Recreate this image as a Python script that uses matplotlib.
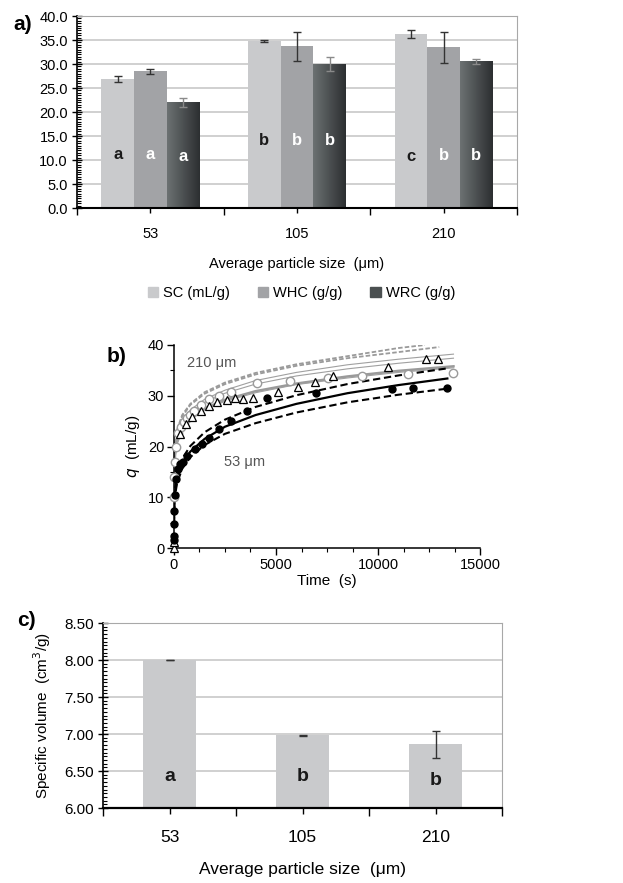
import numpy as np
import matplotlib
matplotlib.use("Agg")
import matplotlib.pyplot as plt
from matplotlib.ticker import MultipleLocator, FormatStrFormatter, FixedLocator
from matplotlib.patches import Patch
from matplotlib.colors import LinearSegmentedColormap

plt.rcParams['font.family'] = ['Liberation Sans', 'DejaVu Sans']

# ---------------- data ----------------
sizes = ["53", "105", "210"]
series_a = ["SC (mL/g)", "WHC (g/g)", "WRC (g/g)"]
sc_vals = [26.8, 34.7, 36.3]
sc_err = [0.6, 0.2, 0.8]
whc_vals = [28.5, 33.7, 33.5]
whc_err = [0.5, 3.0, 3.2]
wrc_vals = [22.0, 30.0, 30.6]
wrc_err = [1.0, 1.4, 0.5]
sc_letters = ["a", "b", "c"]
whc_letters = ["a", "b", "b"]
wrc_letters = ["a", "b", "b"]
sc_letter_y = [11.2, 14.0, 10.7]
whc_letter_y = [11.2, 14.0, 10.9]
wrc_letter_y = [10.7, 14.0, 10.9]

# panel b: kinetics
t_53 = [0, 0, 0, 0, 30, 100, 180, 277, 440, 650, 1010, 1385, 1710, 2230, 2770, 3580, 4545, 6960, 10700, 11700, 13400]
q_53 = [1.5, 2.3, 4.8, 7.3, 10.5, 13.5, 15.5, 16.6, 17.0, 18.2, 19.5, 20.5, 21.6, 23.4, 25.1, 27.0, 29.5, 30.5, 31.4, 31.5, 31.5]
t_105 = [0, 0, 300, 600, 900, 1300, 1700, 2100, 2600, 3000, 3400, 3860, 5110, 6060, 6900, 7810, 10500, 12340, 12960]
q_105 = [0.0, 1.2, 22.5, 24.5, 25.8, 27.0, 28.0, 28.7, 29.2, 29.5, 29.4, 29.6, 30.8, 31.7, 32.8, 33.8, 35.7, 37.2, 37.2]
t_210 = [5, 20, 50, 100, 200, 350, 500, 650, 800, 1000, 1300, 1700, 2200, 2800, 4050, 5690, 7570, 9200, 11490, 13690]
q_210 = [10.0, 14.0, 17.0, 20.0, 22.6, 23.8, 24.8, 25.6, 26.3, 27.0, 28.2, 29.3, 30.0, 30.8, 32.5, 32.9, 33.4, 33.8, 34.3, 34.4]

t_fit_k = [1, 10, 50, 150, 400, 800, 1500, 2500, 4000, 6000, 8500, 11000, 13400]
fit53_mid = [5.0, 7.9, 10.9, 13.6, 16.6, 19.0, 21.5, 23.9, 26.2, 28.4, 30.5, 32.1, 33.4]
fit53_up = [5.3, 8.4, 11.6, 14.4, 17.6, 20.1, 22.8, 25.3, 27.8, 30.1, 32.3, 34.0, 35.4]
fit53_lo = [4.7, 7.4, 10.3, 12.8, 15.6, 17.9, 20.3, 22.5, 24.6, 26.7, 28.7, 30.2, 31.4]

t_fit_g1 = [1, 10, 50, 150, 400, 800, 1500, 2500, 4000, 6000, 8500, 11000, 12300]
fit_g1 = [12.8, 16.8, 20.4, 23.3, 26.2, 28.4, 30.7, 32.6, 34.5, 36.2, 37.8, 39.4, 40.0]
t_fit_g2 = [1, 10, 50, 150, 400, 800, 1500, 2500, 4000, 6000, 8500, 11000, 13000]
fit_g2 = [12.6, 16.6, 20.2, 23.0, 25.9, 28.2, 30.4, 32.3, 34.2, 35.9, 37.4, 38.6, 39.6]
t_fit_g = [1, 10, 50, 150, 400, 800, 1500, 2500, 4000, 6000, 8500, 11000, 13700]
fit_g3 = [12.2, 16.0, 19.5, 22.2, 25.0, 27.2, 29.3, 31.1, 33.0, 34.6, 36.1, 37.2, 38.2]
fit_g4 = [11.9, 15.7, 19.1, 21.8, 24.5, 26.6, 28.7, 30.5, 32.3, 33.9, 35.3, 36.4, 37.4]
fit_g5 = [11.4, 15.0, 18.3, 20.8, 23.4, 25.5, 27.5, 29.2, 30.9, 32.4, 33.8, 34.9, 35.8]
fit_g6 = [11.3, 14.9, 18.1, 20.7, 23.2, 25.2, 27.2, 28.9, 30.6, 32.2, 33.5, 34.6, 35.5]

# panel c
sv_vals = [8.00, 6.98, 6.86]
sv_err = [0.005, 0.01, 0.18]
sv_letters = ["a", "b", "b"]
sv_letter_y = [6.42, 6.43, 6.37]

# ---------------- figure ----------------
W, H = 623, 883
fig = plt.figure(figsize=(W / 100, H / 100), dpi=100)

def ax_px(x0, y0, x1, y1):
    return fig.add_axes([x0 / W, 1 - y1 / H, (x1 - x0) / W, (y1 - y0) / H])

c_sc = "#c9cacc"
c_whc = "#a2a3a6"
grid_c = "#c8c8c8"
frame_c = "#a8a8a8"

# ---------- panel a ----------
axa = ax_px(77, 16, 517, 208)
xa = np.arange(len(sizes))
bw = 0.222
offs = [-bw, 0, bw]
b1 = axa.bar(xa + offs[0], sc_vals, bw, color=c_sc, zorder=2)
b2 = axa.bar(xa + offs[1], whc_vals, bw, color=c_whc, zorder=2)
b3 = axa.bar(xa + offs[2], wrc_vals, bw, color="#4b5051", zorder=2)
grad_cmap = LinearSegmentedColormap.from_list("g", ["#6c7172", "#2c2f31"])
grad = np.linspace(0, 1, 64).reshape(1, -1)
for p in b3:
    x0 = p.get_x(); w = p.get_width(); h = p.get_height()
    im = axa.imshow(grad, extent=[x0, x0 + w, 0, h], aspect='auto', cmap=grad_cmap, zorder=2.1)
    im.set_clip_path(p)
axa.errorbar(xa + offs[0], sc_vals, yerr=sc_err, fmt='none', ecolor="#333333", elinewidth=1, capsize=3, capthick=1, zorder=3)
axa.errorbar(xa + offs[1], whc_vals, yerr=whc_err, fmt='none', ecolor="#333333", elinewidth=1, capsize=3, capthick=1, zorder=3)
axa.errorbar(xa + offs[2], wrc_vals, yerr=wrc_err, fmt='none', ecolor="#8a8a8a", elinewidth=1, capsize=3, capthick=1, zorder=3)
for i in range(len(sizes)):
    axa.text(xa[i] + offs[0], sc_letter_y[i], sc_letters[i], ha='center', va='center', fontsize=12, fontweight='bold', color='#1a1a1a', zorder=4)
    axa.text(xa[i] + offs[1], whc_letter_y[i], whc_letters[i], ha='center', va='center', fontsize=12, fontweight='bold', color='white', zorder=4)
    axa.text(xa[i] + offs[2], wrc_letter_y[i], wrc_letters[i], ha='center', va='center', fontsize=12, fontweight='bold', color='white', zorder=4)
axa.set_xlim(-0.5, 2.5)
axa.set_ylim(0, 40)
axa.yaxis.set_major_locator(MultipleLocator(5))
axa.yaxis.set_minor_locator(MultipleLocator(0.5))
axa.yaxis.set_major_formatter(FormatStrFormatter('%.1f'))
axa.grid(axis='y', color=grid_c, lw=1.2, zorder=0)
axa.set_axisbelow(True)
axa.set_xticks(xa)
axa.set_xticklabels(sizes, fontsize=10.5)
axa.xaxis.set_minor_locator(FixedLocator([-0.5, 0.5, 1.5, 2.5]))
axa.tick_params(axis='x', which='major', direction='inout', length=7, width=1, pad=10)
axa.tick_params(axis='x', which='minor', direction='out', length=5, width=1)
axa.tick_params(axis='y', which='major', direction='inout', length=7, width=1, labelsize=10.5, pad=3)
axa.tick_params(axis='y', which='minor', direction='in', length=3, width=0.8)
for s in ['top', 'right']:
    axa.spines[s].set_color(frame_c)
axa.spines['bottom'].set_linewidth(1.5)
axa.spines['left'].set_linewidth(1.2)
axa.set_xlabel("Average particle size  (\u03bcm)", fontsize=10.5, labelpad=12)
handles = [Patch(color=c_sc), Patch(color=c_whc), Patch(color="#4b5051")]
fig.legend(handles, series_a, loc='center', bbox_to_anchor=(0.484, 1 - 293 / H), ncol=3,
           frameon=False, fontsize=10.5, handlelength=0.7, handleheight=0.7,
           handletextpad=0.35, columnspacing=1.9, borderaxespad=0)
fig.text(13 / W, 1 - 25 / H, "a)", fontsize=15, fontweight='bold', va='center', ha='left')

# ---------- panel b ----------
axb = ax_px(174, 345, 480, 548)
dash = (0, (3.5, 1.8))
axb.plot(t_fit_g1, fit_g1, color="#9a9a9a", lw=1.3, ls=(0, (2.5, 1.2)), zorder=2)
axb.plot(t_fit_g2, fit_g2, color="#9a9a9a", lw=1.3, ls=(0, (2.5, 1.2)), zorder=2)
axb.plot(t_fit_g, fit_g3, color="#a0a0a0", lw=0.8, zorder=2)
axb.plot(t_fit_g, fit_g4, color="#a0a0a0", lw=0.8, zorder=2)
axb.plot(t_fit_g, fit_g5, color="#9a9a9a", lw=1.8, zorder=2)
axb.plot(t_fit_g, fit_g6, color="#a0a0a0", lw=0.8, zorder=2)
axb.plot(t_fit_k, fit53_up, color="black", lw=1.5, ls=dash, zorder=3)
axb.plot(t_fit_k, fit53_lo, color="black", lw=1.5, ls=dash, zorder=3)
axb.plot(t_fit_k, fit53_mid, color="black", lw=1.6, zorder=3)
axb.plot(t_210, q_210, ls='none', marker='o', ms=6, mfc='white', mec='#9a9a9a', mew=1.0, zorder=4, clip_on=False)
axb.plot(t_105, q_105, ls='none', marker='^', ms=6, mfc='white', mec='black', mew=0.9, zorder=5, clip_on=False)
axb.plot(t_53, q_53, ls='none', marker='o', ms=5, mfc='black', mec='black', zorder=6, clip_on=False)
axb.text(650, 36.4, "210 \u03bcm", color="#555555", fontsize=10.5, va='center', ha='left')
axb.text(2450, 17.0, "53 \u03bcm", color="#555555", fontsize=10.5, va='center', ha='left')
axb.set_xlim(0, 15000)
axb.set_ylim(0, 40)
axb.xaxis.set_major_locator(MultipleLocator(5000))
axb.xaxis.set_minor_locator(MultipleLocator(1250))
axb.yaxis.set_major_locator(MultipleLocator(10))
axb.yaxis.set_minor_locator(MultipleLocator(5))
axb.tick_params(which='major', direction='out', length=5, width=1, labelsize=10.5, pad=2)
axb.tick_params(which='minor', direction='out', length=3, width=0.8)
for s in ['top', 'right']:
    axb.spines[s].set_visible(False)
for s in ['left', 'bottom']:
    axb.spines[s].set_linewidth(1.1)
axb.set_xlabel("Time  (s)", fontsize=11, labelpad=2)
axb.set_ylabel(r"$q$  (mL/g)", fontsize=11, labelpad=4)
fig.text(107 / W, 1 - 357 / H, "b)", fontsize=15, fontweight='bold', va='center', ha='left')

# ---------- panel c ----------
axc = ax_px(103, 623, 502, 808)
xc = np.arange(len(sizes))
bc = axc.bar(xc, sv_vals, 0.4, color=c_sc, zorder=2)
axc.errorbar(xc, sv_vals, yerr=sv_err, fmt='none', ecolor="#333333", elinewidth=1, capsize=3, capthick=1, zorder=3)
for i in range(len(sizes)):
    axc.text(xc[i], sv_letter_y[i], sv_letters[i], ha='center', va='center', fontsize=14, fontweight='bold', color='#1a1a1a', zorder=4)
axc.set_xlim(-0.5, 2.5)
axc.set_ylim(6.0, 8.5)
axc.yaxis.set_major_locator(MultipleLocator(0.5))
axc.yaxis.set_minor_locator(MultipleLocator(0.05))
axc.yaxis.set_major_formatter(FormatStrFormatter('%.2f'))
axc.grid(axis='y', color=grid_c, lw=1.2, zorder=0)
axc.set_axisbelow(True)
axc.set_xticks(xc)
axc.set_xticklabels(sizes, fontsize=12.5)
axc.xaxis.set_minor_locator(FixedLocator([-0.5, 0.5, 1.5, 2.5]))
axc.tick_params(axis='x', which='major', direction='inout', length=8, width=1, pad=12)
axc.tick_params(axis='x', which='minor', direction='out', length=6, width=1)
axc.tick_params(axis='y', which='major', direction='inout', length=7, width=1, labelsize=11, pad=3)
axc.tick_params(axis='y', which='minor', direction='in', length=3, width=0.8)
for s in ['top', 'right']:
    axc.spines[s].set_color(frame_c)
axc.spines['bottom'].set_linewidth(1.6)
axc.spines['left'].set_linewidth(1.2)
axc.set_xlabel("Average particle size  (\u03bcm)", fontsize=12.5, labelpad=12)
axc.set_ylabel("Specific volume  (cm$^3$/g)", fontsize=11, labelpad=8)
fig.text(17 / W, 1 - 620 / H, "c)", fontsize=15, fontweight='bold', va='center', ha='left')

fig.savefig("out.png", dpi=100)
